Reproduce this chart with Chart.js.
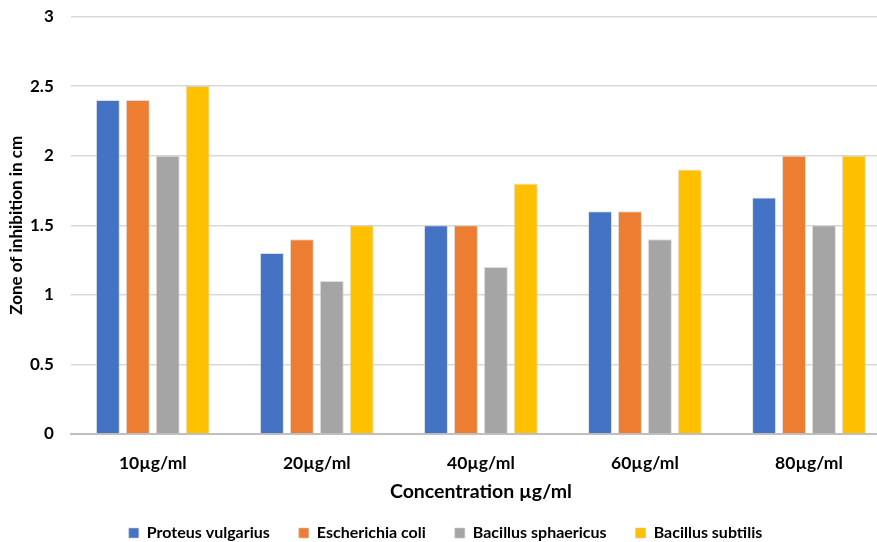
<!DOCTYPE html>
<html>
<head>
<meta charset="utf-8">
<script src="https://cdn.jsdelivr.net/npm/chart.js@4"></script>
<style>
  html, body { margin: 0; padding: 0; background: #fff; overflow: hidden; }
  #wrap { width: 891px; height: 542px; position: relative; }
</style>
</head>
<body>
<div id="wrap"><canvas id="c"></canvas></div>
<script>
const categories = ['10µg/ml', '20µg/ml', '40µg/ml', '60µg/ml', '80µg/ml'];
const proteus = [2.4, 1.3, 1.5, 1.6, 1.7];
const ecoli = [2.4, 1.4, 1.5, 1.6, 2.0];
const sphaericus = [2.0, 1.1, 1.2, 1.4, 1.5];
const subtilis = [2.5, 1.5, 1.8, 1.9, 2.0];
const seriesNames = ['Proteus vulgarius', 'Escherichia coli', 'Bacillus sphaericus', 'Bacillus subtilis'];
const seriesColors = ['#4472C4', '#ED7D31', '#A5A5A5', '#FFC000'];

const FONT = 'Lato, "Open Sans", sans-serif';

const datasets = [proteus, ecoli, sphaericus, subtilis].map((vals, i) => ({
  label: seriesNames[i],
  data: vals,
  backgroundColor: seriesColors[i],
  borderColor: 'rgba(200,200,200,0.6)',
  borderWidth: 1,
  barPercentage: 0.8,
  categoryPercentage: 0.73
}));

new Chart(document.getElementById('c'), {
  type: 'bar',
  data: { labels: categories, datasets },
  options: {
    responsive: true,
    maintainAspectRatio: false,
    animation: false,
    layout: { padding: { top: 0, left: 0, right: 0, bottom: -9 } },
    plugins: {
      legend: {
        position: 'bottom',
        labels: {
          boxWidth: 10, boxHeight: 10, padding: 29,
          color: '#000',
          font: { family: FONT, size: 16, weight: 'bold' }
        }
      },
      tooltip: { enabled: false }
    },
    scales: {
      x: {
        grid: { display: false, drawTicks: false },
        border: { color: '#BFBFBF', width: 2 },
        ticks: { color: '#000', padding: 21, font: { family: FONT, size: 17.5, weight: 'bold', lineHeight: 1 } },
        title: {
          display: true, text: 'Concentration µg/ml', color: '#000',
          font: { family: FONT, size: 19.5, weight: 'bold', lineHeight: 1 }, padding: { top: -12, bottom: -5 }
        }
      },
      y: {
        min: 0, max: 3,
        ticks: {
          stepSize: 0.5, color: '#000', padding: 8,
          font: { family: FONT, size: 17, weight: 'bold', lineHeight: 1 },
          callback: v => String(v)
        },
        grid: { color: '#D9D9D9', lineWidth: 1.5, drawTicks: true, tickLength: 9, tickColor: 'rgba(0,0,0,0)' },
        border: { display: false },
        title: {
          display: true, text: 'Zone of inhibition in cm', color: '#000',
          font: { family: FONT, size: 17, weight: 'bold', lineHeight: 1 }, padding: { top: 8, bottom: -3 }
        }
      }
    }
  }
});
</script>
</body>
</html>
